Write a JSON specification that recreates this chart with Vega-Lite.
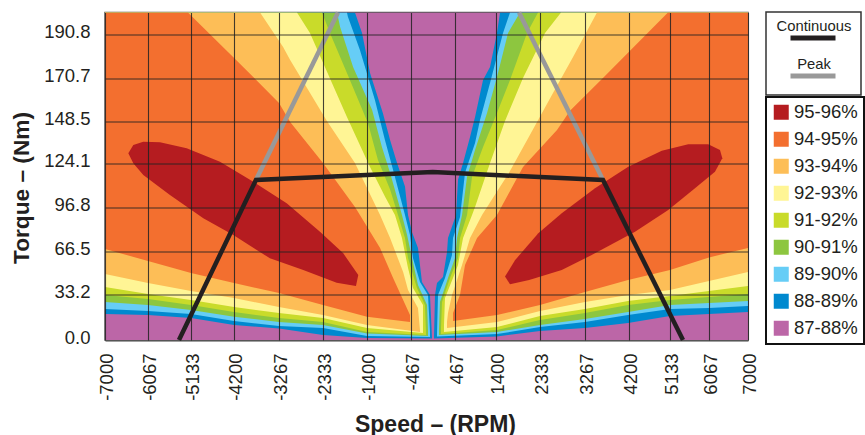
{"$schema":"https://vega.github.io/schema/vega-lite/v6.json","width":643,"height":327.5,"autosize":"none","padding":{"left":105,"top":12.5,"right":117,"bottom":95},"background":"white",
"config":{"font":"Liberation Sans","view":{"stroke":"#555555","strokeWidth":1.5},"axis":{"grid":true,"gridColor":"#222222","gridWidth":1.1,"gridOpacity":0.85,"ticks":false,"domain":false,"labelFont":"Liberation Sans","labelFontSize":18.5,"labelColor":"#231F20","labelOverlap":false,"labelFlush":false,"titleFont":"Liberation Sans","titleFontWeight":"bold","titleColor":"#231F20"}},
"datasets":{"contours":[
{"b":"87-88%","s":"A","rpm":-7000,"nm":0},{"b":"87-88%","s":"A","rpm":7000,"nm":0},{"b":"87-88%","s":"A","rpm":7000,"nm":200.8},{"b":"87-88%","s":"A","rpm":-7000,"nm":200.8},
{"b":"88-89%","s":"R","rpm":1485,"nm":200.8},{"b":"88-89%","s":"R","rpm":1421,"nm":191.4},{"b":"88-89%","s":"R","rpm":1264,"nm":175.8},{"b":"88-89%","s":"R","rpm":1105,"nm":169.7},{"b":"88-89%","s":"R","rpm":923,"nm":150.8},{"b":"88-89%","s":"R","rpm":809,"nm":139.5},{"b":"88-89%","s":"R","rpm":650,"nm":124.5},{"b":"88-89%","s":"R","rpm":535,"nm":114},{"b":"88-89%","s":"R","rpm":490,"nm":91.4},{"b":"88-89%","s":"R","rpm":320,"nm":75.5},{"b":"88-89%","s":"R","rpm":299,"nm":65.7},{"b":"88-89%","s":"R","rpm":215,"nm":46.7},{"b":"88-89%","s":"R","rpm":89,"nm":42.1},{"b":"88-89%","s":"R","rpm":47,"nm":33},{"b":"88-89%","s":"R","rpm":26,"nm":1.5},{"b":"88-89%","s":"R","rpm":26,"nm":1.1},{"b":"88-89%","s":"R","rpm":1421,"nm":2.6},{"b":"88-89%","s":"R","rpm":2333,"nm":6.6},{"b":"88-89%","s":"R","rpm":3267,"nm":8.8},{"b":"88-89%","s":"R","rpm":4180,"nm":12.5},{"b":"88-89%","s":"R","rpm":5133,"nm":17.6},{"b":"88-89%","s":"R","rpm":6067,"nm":19.1},{"b":"88-89%","s":"R","rpm":7000,"nm":20.5},{"b":"88-89%","s":"R","rpm":7000,"nm":200.8},
{"b":"88-89%","s":"L","rpm":-1655,"nm":200.8},{"b":"88-89%","s":"L","rpm":-1505,"nm":191.4},{"b":"88-89%","s":"L","rpm":-1335,"nm":173},{"b":"88-89%","s":"L","rpm":-1060,"nm":152.8},{"b":"88-89%","s":"L","rpm":-905,"nm":137.8},{"b":"88-89%","s":"L","rpm":-755,"nm":124.5},{"b":"88-89%","s":"L","rpm":-585,"nm":109.8},{"b":"88-89%","s":"L","rpm":-520,"nm":91.4},{"b":"88-89%","s":"L","rpm":-436,"nm":79.7},{"b":"88-89%","s":"L","rpm":-310,"nm":68.6},{"b":"88-89%","s":"L","rpm":-226,"nm":42.9},{"b":"88-89%","s":"L","rpm":-58,"nm":33},{"b":"88-89%","s":"L","rpm":-16,"nm":1.5},{"b":"88-89%","s":"L","rpm":-16,"nm":1.1},{"b":"88-89%","s":"L","rpm":-1400,"nm":1.5},{"b":"88-89%","s":"L","rpm":-2333,"nm":3.7},{"b":"88-89%","s":"L","rpm":-3267,"nm":8.4},{"b":"88-89%","s":"L","rpm":-4200,"nm":11},{"b":"88-89%","s":"L","rpm":-5133,"nm":16.1},{"b":"88-89%","s":"L","rpm":-6067,"nm":18.3},{"b":"88-89%","s":"L","rpm":-7000,"nm":19.1},{"b":"88-89%","s":"L","rpm":-7000,"nm":200.8},
{"b":"89-90%","s":"R","rpm":1697,"nm":200.8},{"b":"89-90%","s":"R","rpm":1549,"nm":191.4},{"b":"89-90%","s":"R","rpm":1264,"nm":168.2},{"b":"89-90%","s":"R","rpm":1036,"nm":149.3},{"b":"89-90%","s":"R","rpm":923,"nm":136},{"b":"89-90%","s":"R","rpm":695,"nm":118.4},{"b":"89-90%","s":"R","rpm":581,"nm":90},{"b":"89-90%","s":"R","rpm":425,"nm":75.5},{"b":"89-90%","s":"R","rpm":404,"nm":63.4},{"b":"89-90%","s":"R","rpm":257,"nm":45.9},{"b":"89-90%","s":"R","rpm":110,"nm":33},{"b":"89-90%","s":"R","rpm":89,"nm":3.7},{"b":"89-90%","s":"R","rpm":89,"nm":2.6},{"b":"89-90%","s":"R","rpm":1421,"nm":4.4},{"b":"89-90%","s":"R","rpm":2333,"nm":9.5},{"b":"89-90%","s":"R","rpm":3267,"nm":13.2},{"b":"89-90%","s":"R","rpm":4180,"nm":18.3},{"b":"89-90%","s":"R","rpm":5133,"nm":22.7},{"b":"89-90%","s":"R","rpm":6067,"nm":23.5},{"b":"89-90%","s":"R","rpm":7000,"nm":25},{"b":"89-90%","s":"R","rpm":7000,"nm":200.8},
{"b":"89-90%","s":"L","rpm":-1825,"nm":200.8},{"b":"89-90%","s":"L","rpm":-1805,"nm":198.8},{"b":"89-90%","s":"L","rpm":-1550,"nm":183.6},{"b":"89-90%","s":"L","rpm":-1230,"nm":159.5},{"b":"89-90%","s":"L","rpm":-1015,"nm":137.8},{"b":"89-90%","s":"L","rpm":-840,"nm":120.2},{"b":"89-90%","s":"L","rpm":-585,"nm":91.4},{"b":"89-90%","s":"L","rpm":-478,"nm":77.6},{"b":"89-90%","s":"L","rpm":-415,"nm":61.1},{"b":"89-90%","s":"L","rpm":-268,"nm":42.9},{"b":"89-90%","s":"L","rpm":-100,"nm":33},{"b":"89-90%","s":"L","rpm":-58,"nm":5.9},{"b":"89-90%","s":"L","rpm":-58,"nm":2.2},{"b":"89-90%","s":"L","rpm":-1400,"nm":2.9},{"b":"89-90%","s":"L","rpm":-2333,"nm":8.8},{"b":"89-90%","s":"L","rpm":-3267,"nm":10.3},{"b":"89-90%","s":"L","rpm":-4200,"nm":13.9},{"b":"89-90%","s":"L","rpm":-5133,"nm":19.1},{"b":"89-90%","s":"L","rpm":-6067,"nm":21.2},{"b":"89-90%","s":"L","rpm":-7000,"nm":22.7},{"b":"89-90%","s":"L","rpm":-7000,"nm":200.8},
{"b":"90-91%","s":"R","rpm":1909,"nm":200.8},{"b":"90-91%","s":"R","rpm":1655,"nm":191.4},{"b":"90-91%","s":"R","rpm":1421,"nm":171.2},{"b":"90-91%","s":"R","rpm":1196,"nm":152.8},{"b":"90-91%","s":"R","rpm":923,"nm":132},{"b":"90-91%","s":"R","rpm":741,"nm":115.9},{"b":"90-91%","s":"R","rpm":627,"nm":91.4},{"b":"90-91%","s":"R","rpm":513,"nm":75.5},{"b":"90-91%","s":"R","rpm":467,"nm":61.1},{"b":"90-91%","s":"R","rpm":320,"nm":45.9},{"b":"90-91%","s":"R","rpm":152,"nm":27.9},{"b":"90-91%","s":"R","rpm":131,"nm":7.3},{"b":"90-91%","s":"R","rpm":131,"nm":3.7},{"b":"90-91%","s":"R","rpm":1421,"nm":5.9},{"b":"90-91%","s":"R","rpm":2333,"nm":11},{"b":"90-91%","s":"R","rpm":3267,"nm":15.4},{"b":"90-91%","s":"R","rpm":4180,"nm":20.5},{"b":"90-91%","s":"R","rpm":5133,"nm":25.7},{"b":"90-91%","s":"R","rpm":6067,"nm":27.2},{"b":"90-91%","s":"R","rpm":7000,"nm":28.6},{"b":"90-91%","s":"R","rpm":7000,"nm":200.8},
{"b":"90-91%","s":"L","rpm":-2035,"nm":200.8},{"b":"90-91%","s":"L","rpm":-1970,"nm":194.2},{"b":"90-91%","s":"L","rpm":-1695,"nm":175.8},{"b":"90-91%","s":"L","rpm":-1290,"nm":154.4},{"b":"90-91%","s":"L","rpm":-1080,"nm":133.8},{"b":"90-91%","s":"L","rpm":-905,"nm":118.4},{"b":"90-91%","s":"L","rpm":-650,"nm":91.4},{"b":"90-91%","s":"L","rpm":-540,"nm":77.6},{"b":"90-91%","s":"L","rpm":-436,"nm":61.1},{"b":"90-91%","s":"L","rpm":-310,"nm":40.6},{"b":"90-91%","s":"L","rpm":-120,"nm":25.7},{"b":"90-91%","s":"L","rpm":-100,"nm":7.3},{"b":"90-91%","s":"L","rpm":-100,"nm":2.9},{"b":"90-91%","s":"L","rpm":-1400,"nm":4.8},{"b":"90-91%","s":"L","rpm":-2333,"nm":11},{"b":"90-91%","s":"L","rpm":-3267,"nm":13.2},{"b":"90-91%","s":"L","rpm":-4200,"nm":17},{"b":"90-91%","s":"L","rpm":-5133,"nm":22},{"b":"90-91%","s":"L","rpm":-6067,"nm":25.7},{"b":"90-91%","s":"L","rpm":-7000,"nm":27.9},{"b":"90-91%","s":"L","rpm":-7000,"nm":200.8},
{"b":"91-92%","s":"R","rpm":2291,"nm":200.8},{"b":"91-92%","s":"R","rpm":2058,"nm":191.4},{"b":"91-92%","s":"R","rpm":1697,"nm":169.7},{"b":"91-92%","s":"R","rpm":1421,"nm":152.8},{"b":"91-92%","s":"R","rpm":1105,"nm":133.8},{"b":"91-92%","s":"R","rpm":855,"nm":115.9},{"b":"91-92%","s":"R","rpm":741,"nm":91.4},{"b":"91-92%","s":"R","rpm":581,"nm":75.5},{"b":"91-92%","s":"R","rpm":535,"nm":61.1},{"b":"91-92%","s":"R","rpm":362,"nm":45.9},{"b":"91-92%","s":"R","rpm":194,"nm":27.9},{"b":"91-92%","s":"R","rpm":173,"nm":8.8},{"b":"91-92%","s":"R","rpm":173,"nm":4.4},{"b":"91-92%","s":"R","rpm":1421,"nm":7.3},{"b":"91-92%","s":"R","rpm":2333,"nm":14.7},{"b":"91-92%","s":"R","rpm":3267,"nm":19.8},{"b":"91-92%","s":"R","rpm":4180,"nm":25.7},{"b":"91-92%","s":"R","rpm":5133,"nm":29.3},{"b":"91-92%","s":"R","rpm":6067,"nm":31.5},{"b":"91-92%","s":"R","rpm":7000,"nm":33.7},{"b":"91-92%","s":"R","rpm":7000,"nm":200.8},
{"b":"91-92%","s":"L","rpm":-2355,"nm":200.8},{"b":"91-92%","s":"L","rpm":-2185,"nm":191.4},{"b":"91-92%","s":"L","rpm":-1825,"nm":173},{"b":"91-92%","s":"L","rpm":-1380,"nm":147.6},{"b":"91-92%","s":"L","rpm":-1165,"nm":126.2},{"b":"91-92%","s":"L","rpm":-905,"nm":107.9},{"b":"91-92%","s":"L","rpm":-735,"nm":91.4},{"b":"91-92%","s":"L","rpm":-585,"nm":75.5},{"b":"91-92%","s":"L","rpm":-520,"nm":61.1},{"b":"91-92%","s":"L","rpm":-331,"nm":38.3},{"b":"91-92%","s":"L","rpm":-163,"nm":25.7},{"b":"91-92%","s":"L","rpm":-142,"nm":5.9},{"b":"91-92%","s":"L","rpm":-142,"nm":3.7},{"b":"91-92%","s":"L","rpm":-1400,"nm":5.9},{"b":"91-92%","s":"L","rpm":-2333,"nm":13.2},{"b":"91-92%","s":"L","rpm":-3267,"nm":16.1},{"b":"91-92%","s":"L","rpm":-4200,"nm":20.5},{"b":"91-92%","s":"L","rpm":-5133,"nm":25.7},{"b":"91-92%","s":"L","rpm":-6067,"nm":30},{"b":"91-92%","s":"L","rpm":-7000,"nm":33},{"b":"91-92%","s":"L","rpm":-7000,"nm":200.8},
{"b":"92-93%","s":"R","rpm":2770,"nm":200.8},{"b":"92-93%","s":"R","rpm":2437,"nm":191.4},{"b":"92-93%","s":"R","rpm":1973,"nm":170.7},{"b":"92-93%","s":"R","rpm":1591,"nm":148.8},{"b":"92-93%","s":"R","rpm":1264,"nm":124.5},{"b":"92-93%","s":"R","rpm":923,"nm":97},{"b":"92-93%","s":"R","rpm":855,"nm":91.4},{"b":"92-93%","s":"R","rpm":650,"nm":75.5},{"b":"92-93%","s":"R","rpm":535,"nm":55.8},{"b":"92-93%","s":"R","rpm":425,"nm":45.9},{"b":"92-93%","s":"R","rpm":257,"nm":30.8},{"b":"92-93%","s":"R","rpm":236,"nm":11},{"b":"92-93%","s":"R","rpm":236,"nm":5.9},{"b":"92-93%","s":"R","rpm":1421,"nm":9.5},{"b":"92-93%","s":"R","rpm":2333,"nm":17.6},{"b":"92-93%","s":"R","rpm":3267,"nm":22.7},{"b":"92-93%","s":"R","rpm":4180,"nm":28.6},{"b":"92-93%","s":"R","rpm":5133,"nm":32.2},{"b":"92-93%","s":"R","rpm":6067,"nm":36},{"b":"92-93%","s":"R","rpm":7000,"nm":39.8},{"b":"92-93%","s":"R","rpm":7000,"nm":200.8},
{"b":"92-93%","s":"L","rpm":-2885,"nm":200.8},{"b":"92-93%","s":"L","rpm":-2610,"nm":191.4},{"b":"92-93%","s":"L","rpm":-1825,"nm":150.8},{"b":"92-93%","s":"L","rpm":-1335,"nm":122},{"b":"92-93%","s":"L","rpm":-1015,"nm":103.5},{"b":"92-93%","s":"L","rpm":-800,"nm":91.4},{"b":"92-93%","s":"L","rpm":-650,"nm":75.5},{"b":"92-93%","s":"L","rpm":-520,"nm":53.5},{"b":"92-93%","s":"L","rpm":-415,"nm":38.3},{"b":"92-93%","s":"L","rpm":-205,"nm":25.7},{"b":"92-93%","s":"L","rpm":-205,"nm":8.8},{"b":"92-93%","s":"L","rpm":-205,"nm":5.1},{"b":"92-93%","s":"L","rpm":-1400,"nm":8.8},{"b":"92-93%","s":"L","rpm":-2333,"nm":16.1},{"b":"92-93%","s":"L","rpm":-3267,"nm":19.8},{"b":"92-93%","s":"L","rpm":-4200,"nm":24.2},{"b":"92-93%","s":"L","rpm":-5133,"nm":29.3},{"b":"92-93%","s":"L","rpm":-6067,"nm":33.7},{"b":"92-93%","s":"L","rpm":-7000,"nm":39},{"b":"92-93%","s":"L","rpm":-7000,"nm":200.8},
{"b":"93-94%","s":"R","rpm":3521,"nm":200.8},{"b":"93-94%","s":"R","rpm":3019,"nm":180.4},{"b":"93-94%","s":"R","rpm":2603,"nm":163},{"b":"93-94%","s":"R","rpm":2142,"nm":141.8},{"b":"93-94%","s":"R","rpm":1676,"nm":118.4},{"b":"93-94%","s":"R","rpm":1082,"nm":91.4},{"b":"93-94%","s":"R","rpm":809,"nm":75.5},{"b":"93-94%","s":"R","rpm":627,"nm":55.8},{"b":"93-94%","s":"R","rpm":404,"nm":33},{"b":"93-94%","s":"R","rpm":320,"nm":19.8},{"b":"93-94%","s":"R","rpm":299,"nm":13.2},{"b":"93-94%","s":"R","rpm":299,"nm":8.8},{"b":"93-94%","s":"R","rpm":1421,"nm":13.2},{"b":"93-94%","s":"R","rpm":2333,"nm":21.2},{"b":"93-94%","s":"R","rpm":3267,"nm":27.9},{"b":"93-94%","s":"R","rpm":4180,"nm":33},{"b":"93-94%","s":"R","rpm":5133,"nm":36.8},{"b":"93-94%","s":"R","rpm":6067,"nm":43.6},{"b":"93-94%","s":"R","rpm":7000,"nm":50.5},{"b":"93-94%","s":"R","rpm":7000,"nm":200.8},
{"b":"93-94%","s":"L","rpm":-3660,"nm":200.8},{"b":"93-94%","s":"L","rpm":-3180,"nm":185},{"b":"93-94%","s":"L","rpm":-3030,"nm":179},{"b":"93-94%","s":"L","rpm":-2250,"nm":148.8},{"b":"93-94%","s":"L","rpm":-1655,"nm":124.5},{"b":"93-94%","s":"L","rpm":-1120,"nm":91.4},{"b":"93-94%","s":"L","rpm":-905,"nm":75.5},{"b":"93-94%","s":"L","rpm":-625,"nm":50.5},{"b":"93-94%","s":"L","rpm":-520,"nm":36.8},{"b":"93-94%","s":"L","rpm":-310,"nm":23.5},{"b":"93-94%","s":"L","rpm":-268,"nm":7.3},{"b":"93-94%","s":"L","rpm":-268,"nm":5.9},{"b":"93-94%","s":"L","rpm":-1400,"nm":11},{"b":"93-94%","s":"L","rpm":-2333,"nm":18.3},{"b":"93-94%","s":"L","rpm":-3267,"nm":24.2},{"b":"93-94%","s":"L","rpm":-4200,"nm":30.8},{"b":"93-94%","s":"L","rpm":-5133,"nm":36},{"b":"93-94%","s":"L","rpm":-6067,"nm":42.1},{"b":"93-94%","s":"L","rpm":-7000,"nm":48.9},{"b":"93-94%","s":"L","rpm":-7000,"nm":200.8},
{"b":"94-95%","s":"R","rpm":5087,"nm":200.8},{"b":"94-95%","s":"R","rpm":3648,"nm":170.7},{"b":"94-95%","s":"R","rpm":2955,"nm":154},{"b":"94-95%","s":"R","rpm":2686,"nm":143.6},{"b":"94-95%","s":"R","rpm":1973,"nm":122},{"b":"94-95%","s":"R","rpm":1421,"nm":91.4},{"b":"94-95%","s":"R","rpm":969,"nm":75.5},{"b":"94-95%","s":"R","rpm":695,"nm":55.8},{"b":"94-95%","s":"R","rpm":581,"nm":33},{"b":"94-95%","s":"R","rpm":425,"nm":19.8},{"b":"94-95%","s":"R","rpm":425,"nm":13.9},{"b":"94-95%","s":"R","rpm":1421,"nm":18.3},{"b":"94-95%","s":"R","rpm":2333,"nm":25.7},{"b":"94-95%","s":"R","rpm":3267,"nm":35.3},{"b":"94-95%","s":"R","rpm":4180,"nm":44.4},{"b":"94-95%","s":"R","rpm":5133,"nm":52},{"b":"94-95%","s":"R","rpm":6067,"nm":61.6},{"b":"94-95%","s":"R","rpm":7000,"nm":68.6},{"b":"94-95%","s":"R","rpm":7000,"nm":200.8},
{"b":"94-95%","s":"L","rpm":-5200,"nm":200.8},{"b":"94-95%","s":"L","rpm":-4220,"nm":180.4},{"b":"94-95%","s":"L","rpm":-3267,"nm":158},{"b":"94-95%","s":"L","rpm":-3030,"nm":148.2},{"b":"94-95%","s":"L","rpm":-2333,"nm":124.5},{"b":"94-95%","s":"L","rpm":-1655,"nm":97},{"b":"94-95%","s":"L","rpm":-1550,"nm":91.4},{"b":"94-95%","s":"L","rpm":-1120,"nm":68.6},{"b":"94-95%","s":"L","rpm":-840,"nm":45.9},{"b":"94-95%","s":"L","rpm":-478,"nm":18.3},{"b":"94-95%","s":"L","rpm":-478,"nm":13.2},{"b":"94-95%","s":"L","rpm":-1400,"nm":17},{"b":"94-95%","s":"L","rpm":-2333,"nm":25.7},{"b":"94-95%","s":"L","rpm":-3267,"nm":34.5},{"b":"94-95%","s":"L","rpm":-4200,"nm":42.1},{"b":"94-95%","s":"L","rpm":-5133,"nm":49.7},{"b":"94-95%","s":"L","rpm":-6067,"nm":58.9},{"b":"94-95%","s":"L","rpm":-7000,"nm":67.9},{"b":"94-95%","s":"L","rpm":-7000,"nm":200.8},
{"b":"95-96%","s":"R","rpm":1591,"nm":47},{"b":"95-96%","s":"R","rpm":1803,"nm":59.5},{"b":"95-96%","s":"R","rpm":2297,"nm":78.8},{"b":"95-96%","s":"R","rpm":2784,"nm":92.6},{"b":"95-96%","s":"R","rpm":3479,"nm":108.7},{"b":"95-96%","s":"R","rpm":4185,"nm":122.2},{"b":"95-96%","s":"R","rpm":4946,"nm":131.6},{"b":"95-96%","s":"R","rpm":5570,"nm":135.3},{"b":"95-96%","s":"R","rpm":6048,"nm":135.3},{"b":"95-96%","s":"R","rpm":6330,"nm":132},{"b":"95-96%","s":"R","rpm":6385,"nm":127.2},{"b":"95-96%","s":"R","rpm":6210,"nm":119.1},{"b":"95-96%","s":"R","rpm":5731,"nm":108.7},{"b":"95-96%","s":"R","rpm":5093,"nm":95},{"b":"95-96%","s":"R","rpm":4337,"nm":79.9},{"b":"95-96%","s":"R","rpm":3479,"nm":64.7},{"b":"95-96%","s":"R","rpm":2784,"nm":52},{"b":"95-96%","s":"R","rpm":2103,"nm":44.4},{"b":"95-96%","s":"R","rpm":1697,"nm":41.1},
{"b":"95-96%","s":"L","rpm":-6494,"nm":130.1},{"b":"95-96%","s":"L","rpm":-6386,"nm":134.9},{"b":"95-96%","s":"L","rpm":-6169,"nm":136.8},{"b":"95-96%","s":"L","rpm":-5807,"nm":136.5},{"b":"95-96%","s":"L","rpm":-5227,"nm":133},{"b":"95-96%","s":"L","rpm":-4504,"nm":125.3},{"b":"95-96%","s":"L","rpm":-3800,"nm":112.8},{"b":"95-96%","s":"L","rpm":-3104,"nm":99.3},{"b":"95-96%","s":"L","rpm":-2397,"nm":79.9},{"b":"95-96%","s":"L","rpm":-1903,"nm":64.7},{"b":"95-96%","s":"L","rpm":-1585,"nm":48.2},{"b":"95-96%","s":"L","rpm":-1634,"nm":39.8},{"b":"95-96%","s":"L","rpm":-2043,"nm":42.3},{"b":"95-96%","s":"L","rpm":-2752,"nm":52},{"b":"95-96%","s":"L","rpm":-3455,"nm":60.9},{"b":"95-96%","s":"L","rpm":-4215,"nm":77.6},{"b":"95-96%","s":"L","rpm":-4866,"nm":89.2},{"b":"95-96%","s":"L","rpm":-5590,"nm":104.5},{"b":"95-96%","s":"L","rpm":-6169,"nm":117},{"b":"95-96%","s":"L","rpm":-6386,"nm":124.3}
],
"limits":[
{"curve":"Peak","part":"L","rpm":-3745,"nm":113.9},{"curve":"Peak","part":"L","rpm":-2015,"nm":200.8},
{"curve":"Peak","part":"R","rpm":3649,"nm":113.9},{"curve":"Peak","part":"R","rpm":1888,"nm":200.8},
{"curve":"Continuous","part":"C","rpm":-5394,"nm":0},{"curve":"Continuous","part":"C","rpm":-3745,"nm":113.9},{"curve":"Continuous","part":"C","rpm":0,"nm":118.9},{"curve":"Continuous","part":"C","rpm":3649,"nm":113.9},{"curve":"Continuous","part":"C","rpm":5444,"nm":0}
]},
"encoding":{
"x":{"field":"rpm","type":"quantitative","scale":{"domain":[-7000,-6067,-5133,-4200,-3267,-2333,-1400,-467,467,1400,2333,3267,4200,5133,6067,7000],"range":[0,43,86,129,174,218,262,305.5,350,391,435,480,524,565,604,643],"nice":false,"zero":false},
"axis":{"zindex":1,"values":[-7000,-6067,-5133,-4200,-3267,-2333,-1400,-467,467,1400,2333,3267,4200,5133,6067,7000],"labelExpr":"'' + datum.value","labelAngle":270,"labelAlign":"right","labelBaseline":"middle","labelPadding":13,"labelOffset":1.5,"title":"Speed – (RPM)","titleFontSize":23,"titleX":330,"titleY":91,"titleBaseline":"alphabetic","titleAlign":"center"}},
"y":{"field":"nm","type":"quantitative","scale":{"domain":[0,33.2,66.5,96.8,124.1,148.5,170.7,190.8,200.8],"range":[327.5,282.2,238.5,194.8,151.2,109,65.5,21.8,0],"nice":false,"zero":false},
"axis":{"zindex":1,"values":[0,33.2,66.5,96.8,124.1,148.5,170.7,190.8],"format":".1f","labelPadding":15,"labelOffset":-3,"title":"Torque – (Nm)","titleFontSize":22.7,"titleX":-77,"titleY":175,"titleAngle":270,"titleBaseline":"alphabetic","titleAlign":"center"}}
},
"layer":[
{"data":{"name":"contours"},"transform":[{"window":[{"op":"row_number","as":"i"}]}],"mark":{"type":"line","strokeWidth":0,"clip":true},
"encoding":{"fill":{"field":"b","type":"nominal","scale":{"domain":["95-96%","94-95%","93-94%","92-93%","91-92%","90-91%","89-90%","88-89%","87-88%"],"range":["#B51C20","#F36F2F","#FDBE57","#FFF595","#C9DB2A","#8DC63F","#66CDF6","#0089CF","#BC66A7"]},
"legend":{"orient":"none","legendX":661,"legendY":84.5,"title":null,"padding":6,"strokeColor":"#111111","symbolType":"square","symbolSize":225,"symbolStrokeWidth":0,"symbolOpacity":1,"rowPadding":8,"labelOffset":3.5,"labelFontSize":18.5,"labelColor":"#231F20","labelFont":"Liberation Sans","encoding":{"legend":{"strokeWidth":{"value":2}}}}},
"detail":{"field":"s"},"order":{"field":"i","type":"quantitative"}}},
{"data":{"name":"limits"},"transform":[{"window":[{"op":"row_number","as":"i"}]}],"mark":{"type":"line","strokeWidth":4.5,"strokeCap":"butt","clip":false},
"encoding":{"stroke":{"field":"curve","type":"nominal","scale":{"domain":["Continuous","Peak"],"range":["#231F20","#999999"]},
"legend":{"orient":"none","legendX":661,"legendY":-0.5,"title":null,"padding":9,"strokeColor":"#333333","symbolType":"stroke","symbolSize":100,"symbolStrokeWidth":5,"rowPadding":9,"labelFontSize":14.8,"labelColor":"#231F20","labelFont":"Liberation Sans","encoding":{"legend":{"strokeWidth":{"value":1.5}},"symbols":{"size":{"value":2025},"x":{"value":38},"y":{"value":17}},"labels":{"x":{"value":39},"y":{"value":6},"align":{"value":"center"}}}}},
"detail":{"field":"part"},"order":{"field":"i","type":"quantitative"}}}
]}
